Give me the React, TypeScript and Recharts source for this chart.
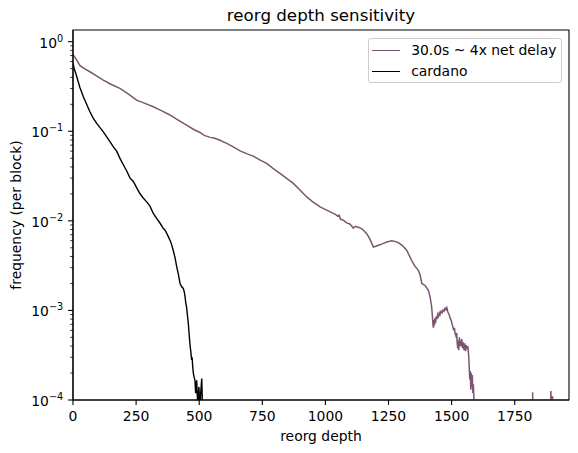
import React from "react";
import { LineChart, Line, XAxis, YAxis, ReferenceArea } from "recharts";

const purpleDepth = [
  0, 10, 28, 45, 67, 90, 120, 150, 186, 220, 252, 285, 318, 350, 384, 415, 450, 480, 503, 520, 543, 556, 580, 609,
  635, 662, 690, 714, 740, 767, 795, 820, 845, 873, 900, 926, 950, 979, 1005, 1031, 1040, 1048, 1054, 1060, 1071,
  1084, 1095, 1103, 1110, 1118, 1130, 1140, 1150, 1165, 1177, 1190, 1200, 1216, 1230, 1243, 1263, 1275, 1289, 1305,
  1322, 1342, 1355, 1368, 1375, 1382, 1395, 1408, 1415, 1421, 1424, 1426, 1428, 1430, 1432, 1434, 1436, 1439, 1442,
  1445, 1448, 1451, 1454, 1458, 1462, 1466, 1470, 1474, 1478, 1481, 1485, 1490, 1494, 1498, 1502, 1505, 1508, 1511,
  1514, 1517, 1520, 1522, 1524, 1526, 1528, 1531, 1533, 1536, 1538, 1540, 1543, 1546, 1549, 1552, 1555, 1558, 1561,
  1564, 1566, 1568, 1570, 1572, 1574, 1576, 1578, 1580, 1582, 1584, 1586, 1588, 1590, 1820, 1821, 1822, 1892, 1893,
  1895, 1897, 1899, 1900, 1902, 1910,
];
const purpleFreq = [
  0.72, 0.655, 0.54, 0.5, 0.462, 0.42, 0.373, 0.335, 0.301, 0.26, 0.223, 0.205, 0.188, 0.17, 0.152, 0.134, 0.117,
  0.104, 0.097, 0.09, 0.0855, 0.0846, 0.08, 0.0733, 0.067, 0.0605, 0.056, 0.0528, 0.048, 0.0438, 0.038, 0.0339,
  0.03, 0.0262, 0.022, 0.0185, 0.0163, 0.0143, 0.0132, 0.0121, 0.0118, 0.0113, 0.0116, 0.0104, 0.0102, 0.0095,
  0.0093, 0.0088, 0.0083, 0.0087, 0.0085, 0.0083, 0.0079, 0.0071, 0.0062, 0.0051, 0.0052, 0.0054, 0.0056, 0.0058,
  0.006, 0.0059, 0.0057, 0.0053, 0.0047, 0.0036, 0.0031, 0.0028, 0.0025, 0.002, 0.0019, 0.00168, 0.0014, 0.00109,
  0.00085, 0.0007, 0.00064, 0.00078, 0.00068, 0.00082, 0.00072, 0.00086, 0.0008, 0.0009, 0.00086, 0.00094, 0.0009,
  0.00098, 0.00094, 0.00101, 0.00098, 0.00106, 0.00102, 0.00107, 0.00096, 0.0009, 0.00082, 0.00078, 0.0007,
  0.00066, 0.0006, 0.00064, 0.00055, 0.00052, 0.00056, 0.00044, 0.00038, 0.00046, 0.00036, 0.0005, 0.0004, 0.00046,
  0.0004, 0.00048, 0.00038, 0.00044, 0.00036, 0.00043, 0.00035, 0.00041, 0.00037, 0.0004, 0.00035, 0.0003, 0.00022,
  0.00017, 0.00021, 0.00013, 0.0002, 0.00014, 0.00019, 0.00012, 0.00015, 0.00011, 0, 0, 0.000122, 0, 0, 0.000126,
  0.00009, 0.000105, 0.00009, 0.00011, 0, 0,
];

const cardanoDepth = [
  0, 5, 15, 27, 41, 54, 67, 80, 94, 107, 120, 133, 147, 160, 173, 186, 200, 213, 226, 239, 252, 265, 278, 292, 305,
  318, 332, 345, 358, 364, 372, 384, 390, 397, 404, 411, 418, 424, 430, 437, 441, 444, 447, 450, 453, 457, 460, 463,
  467, 470, 472, 474, 477, 480, 483, 486, 488, 490, 492, 494, 497, 499, 501, 503, 506, 510, 512, 514,
];
const cardanoFreq = [
  0.574, 0.5, 0.406, 0.31, 0.243, 0.2, 0.165, 0.14, 0.1225, 0.11, 0.0987, 0.087, 0.0763, 0.067, 0.06, 0.0498, 0.042,
  0.036, 0.03, 0.0275, 0.0235, 0.0202, 0.018, 0.0163, 0.0146, 0.0121, 0.0106, 0.0094, 0.0082, 0.0079, 0.0072,
  0.0061, 0.0055, 0.0047, 0.0039, 0.00306, 0.0025, 0.002, 0.00185, 0.00176, 0.0016, 0.00142, 0.0012, 0.00109,
  0.0009, 0.00071, 0.00055, 0.00043, 0.00034, 0.00028, 0.0003, 0.00024, 0.000197, 0.00018, 0.000166, 0.000119,
  0.00015, 0.000166, 0.00012, 0.00009, 0.00012, 0.00014, 0.0001, 0.00008, 0.00012, 0.000174, 0.00011, 0,
];

const xTicks = [0, 250, 500, 750, 1000, 1250, 1500, 1750];
const yMajorExp = [0, -1, -2, -3, -4];
const yMinorMult = [2, 3, 4, 5, 6, 7, 8, 9];

const seriesNames = ["30.0s ~ 4x net delay", "cardano"];
const seriesColors = ["#7b5571", "#000000"];

const X_MAX = 1965;
const Y_MIN = 1e-4;
const Y_MAX = 1.351;
const FLOOR = 1e-9;
const FONT = "DejaVu Sans";

const purpleData = purpleDepth.map((x, i) => ({ x, y: purpleFreq[i] > 0 ? purpleFreq[i] : FLOOR }));
const cardanoData = cardanoDepth.map((x, i) => ({ x, y: cardanoFreq[i] > 0 ? cardanoFreq[i] : FLOOR }));

const yTicks: number[] = [];
yMajorExp.forEach((e) => yTicks.push(Math.pow(10, e)));
[-4, -3, -2, -1].forEach((e) => yMinorMult.forEach((m) => yTicks.push(m * Math.pow(10, e))));
yTicks.sort((a, b) => a - b);

const isMajor = (v: number) => {
  const l = Math.log10(v);
  return Math.abs(l - Math.round(l)) < 1e-6;
};

const YTick = (props: any) => {
  const { x, y, payload } = props;
  const v = payload.value;
  if (isMajor(v)) {
    const e = Math.round(Math.log10(v));
    const sup = e < 0 ? "\u2212" + Math.abs(e) : String(e);
    return (
      <g>
        <line x1={x - 4.9} x2={x} y1={y} y2={y} stroke="#000" strokeWidth={1.1} />
        <text x={x - 9.8} y={y + 5.8} textAnchor="end" fontFamily={FONT} fontSize={13.9} fill="#000">
          <tspan>10</tspan>
          <tspan dy={-6} fontSize={9.7}>{sup}</tspan>
        </text>
      </g>
    );
  }
  return <line x1={x - 2.8} x2={x} y1={y} y2={y} stroke="#000" strokeWidth={0.8} />;
};

const XTick = (props: any) => {
  const { x, y, payload } = props;
  return (
    <g>
      <line x1={x} x2={x} y1={y} y2={y + 4.9} stroke="#000" strokeWidth={1.1} />
      <text x={x} y={y + 20.5} textAnchor="middle" fontFamily={FONT} fontSize={13.9} fill="#000">
        {payload.value}
      </text>
    </g>
  );
};

export default function App() {
  return (
    <div style={{ position: "absolute", left: 0, top: 0, width: 578, height: 453, background: "#fff" }}>
      <LineChart width={578} height={453} margin={{ top: 30, right: 9, bottom: 0, left: 0 }}>
        <XAxis
          dataKey="x"
          type="number"
          domain={[0, X_MAX]}
          allowDataOverflow
          ticks={xTicks}
          interval={0}
          height={53}
          tickSize={0}
          tickMargin={0}
          tickLine={false}
          axisLine={{ stroke: "#000", strokeWidth: 1.1 }}
          tick={<XTick />}
        />
        <YAxis
          type="number"
          scale="log"
          domain={[Y_MIN, Y_MAX]}
          allowDataOverflow
          ticks={yTicks}
          interval={0}
          width={73}
          tickSize={0}
          tickMargin={0}
          tickLine={false}
          axisLine={{ stroke: "#000", strokeWidth: 1.1 }}
          tick={<YTick />}
        />
        <Line
          data={purpleData}
          dataKey="y"
          type="linear"
          stroke={seriesColors[0]}
          strokeWidth={1.5}
          dot={false}
          isAnimationActive={false}
        />
        <Line
          data={cardanoData}
          dataKey="y"
          type="linear"
          stroke={seriesColors[1]}
          strokeWidth={1.4}
          dot={false}
          isAnimationActive={false}
        />
        <ReferenceArea
          x1={0}
          x2={X_MAX}
          y1={Y_MIN}
          y2={Y_MAX}
          fill="none"
          fillOpacity={0}
          stroke="#000"
          strokeWidth={1.1}
          ifOverflow="visible"
        />
        <text x={321} y={21} textAnchor="middle" fontFamily={FONT} fontSize={16.7} fill="#000">
          reorg depth sensitivity
        </text>
        <text x={321} y={441} textAnchor="middle" fontFamily={FONT} fontSize={13.9} fill="#000">
          reorg depth
        </text>
        <text
          x={21}
          y={215}
          textAnchor="middle"
          fontFamily={FONT}
          fontSize={13.9}
          fill="#000"
          transform="rotate(-90 21 215)"
        >
          frequency (per block)
        </text>
      </LineChart>
      <div
        style={{
          position: "absolute",
          left: 367.7,
          top: 37.7,
          width: 194.6,
          height: 45,
          boxSizing: "border-box",
          border: "1px solid #cccccc",
          borderRadius: 3,
          background: "rgba(255,255,255,0.8)",
          fontFamily: FONT,
          fontSize: 13.9,
          color: "#000",
        }}
      >
        {seriesNames.map((name, i) => (
          <div
            key={name}
            style={{
              position: "absolute",
              left: 0,
              top: i === 0 ? 2.5 : 23.5,
              height: 18,
              display: "flex",
              alignItems: "center",
              whiteSpace: "nowrap",
            }}
          >
            <div
              style={{
                marginLeft: 3.5,
                width: 28,
                height: 0,
                borderTop: `1.3px solid ${seriesColors[i]}`,
              }}
            />
            <span style={{ marginLeft: 11, lineHeight: "18px" }}>{name}</span>
          </div>
        ))}
      </div>
    </div>
  );
}
